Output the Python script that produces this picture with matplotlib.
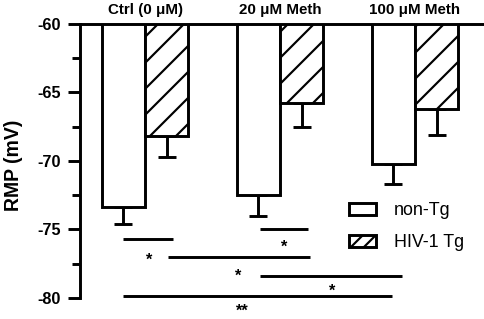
import numpy as np
import matplotlib
matplotlib.use("Agg")
import matplotlib.pyplot as plt
from matplotlib.patches import Patch

plt.rcParams['font.family'] = ['Liberation Sans', 'DejaVu Sans']
plt.rcParams['hatch.linewidth'] = 2.0
plt.rcParams['axes.unicode_minus'] = False

groups = ["Ctrl (0 \u03bcM)", "20 \u03bcM Meth", "100 \u03bcM Meth"]
non_tg = [-73.4, -72.5, -70.2]
non_tg_sem = [1.2, 1.5, 1.5]
hiv_tg = [-68.2, -65.8, -66.2]
hiv_tg_sem = [1.5, 1.75, 1.9]

# significance brackets: (x start, x end, y, label and its position)
sig_x1 = [0.85, -0.16, 0.17, 0.85, -0.16]
sig_x2 = [1.21, 0.21, 1.22, 1.90, 1.83]
sig_y = [-75.0, -75.7, -77.0, -78.4, -79.9]
sig_lab = ["*", "*", "*", "*", "**"]
sig_lab_x = [1.03, 0.03, 0.69, 1.39, 0.72]
sig_lab_y = [-76.85, -77.8, -78.95, -80.1, -81.5]  # bottom of text box


def main():
    dpi = 78
    fig = plt.figure(figsize=(484 / dpi, 319 / dpi), dpi=dpi)
    ax = fig.add_axes([80 / 484, 0, 404 / 484, 295 / 319])

    x = np.arange(len(groups))
    w = 0.32
    lw = 2.7
    base = -60

    ax.bar(x - w / 2, np.array(non_tg) - base, w, bottom=base,
           color='white', edgecolor='black', linewidth=lw, zorder=3)
    ax.bar(x + w / 2, np.array(hiv_tg) - base, w, bottom=base,
           color='white', edgecolor='black', linewidth=lw, hatch='/', zorder=3)

    z = np.zeros(len(groups))
    ax.errorbar(x - w / 2, non_tg, yerr=[non_tg_sem, z], fmt='none', ecolor='black',
                elinewidth=lw, capsize=8, capthick=lw, zorder=2)
    ax.errorbar(x + w / 2, hiv_tg, yerr=[hiv_tg_sem, z], fmt='none', ecolor='black',
                elinewidth=lw, capsize=8, capthick=lw, zorder=2)

    for x1, x2, y, lab, lx, ly in zip(sig_x1, sig_x2, sig_y, sig_lab, sig_lab_x, sig_lab_y):
        ax.plot([x1, x2], [y, y], color='black', lw=lw, solid_capstyle='butt', clip_on=False)
        ax.text(lx, ly, lab, ha='center', va='bottom', fontsize=15,
                fontweight='bold', clip_on=False)

    for xi, g in zip(x, groups):
        ax.text(xi, -59.0, g, ha='center', va='center', fontsize=14,
                fontweight='bold', clip_on=False)

    ax.set_xlim(-0.4815, 2.511)
    ax.set_ylim(-81.55, -60)
    ax.set_yticks([-60, -65, -70, -75, -80])
    ax.set_yticks(np.arange(-80, -59, 2.5), minor=True)
    ax.set_xticks([])
    ax.spines['right'].set_visible(False)
    ax.spines['bottom'].set_visible(False)
    ax.spines['left'].set_bounds(-80, -60)
    ax.spines['left'].set_linewidth(lw)
    ax.spines['top'].set_linewidth(lw)
    ax.tick_params(axis='y', which='major', length=11, width=lw, pad=7, labelsize=15)
    ax.tick_params(axis='y', which='minor', length=7, width=lw)
    for t in ax.get_yticklabels():
        t.set_fontweight('bold')
    ax.set_ylabel("RMP (mV)", fontsize=18, fontweight='bold')
    ax.yaxis.set_label_coords(-0.14, 0.522)

    handles = [Patch(facecolor='white', edgecolor='black', linewidth=lw),
               Patch(facecolor='white', edgecolor='black', linewidth=lw, hatch='//')]
    ax.legend(handles, ["non-Tg", "HIV-1 Tg"], loc='upper left',
              bbox_to_anchor=(349 / 484, 1 - 202 / 319), bbox_transform=fig.transFigure,
              frameon=False, fontsize=16.5, handlelength=1.5, handleheight=0.65,
              handletextpad=1.0, labelspacing=0.85, borderpad=0, borderaxespad=0)

    fig.savefig("out.png", dpi=dpi)


if __name__ == "__main__":
    main()
